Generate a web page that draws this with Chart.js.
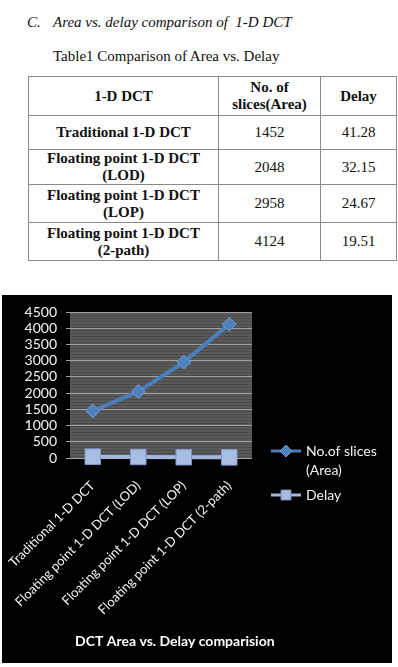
<!DOCTYPE html>
<html>
<head>
<meta charset="utf-8">
<script src="https://cdn.jsdelivr.net/npm/chart.js@4.4.1/dist/chart.umd.min.js"></script>
<style>
  html, body { margin: 0; padding: 0; background: #fff; }
  body { width: 398px; height: 667px; position: relative; overflow: hidden; font-family: "Liberation Serif", "Times New Roman", serif; color: #111; }
  .heading { position: absolute; left: 27px; top: 14px; font-size: 15px; font-style: italic; white-space: pre; }
  .heading .num { display: inline-block; width: 26px; }
  .caption { position: absolute; left: 53px; top: 48px; font-size: 15px; }
  table { position: absolute; left: 28px; top: 76px; border-collapse: collapse; font-size: 15px; line-height: 17px; }
  td, th { border: 1px solid #8a8a8a; text-align: center; padding: 0 3px; }
  th { font-weight: bold; height: 38px; }
  td.name { font-weight: bold; }
  .chart-box { position: absolute; left: 2px; top: 295px; width: 390px; height: 368px; background: #000; }
</style>
</head>
<body>
<div class="heading"><span class="num">C.</span>Area vs. delay comparison of  1-D DCT</div>
<div class="caption">Table1 Comparison of Area vs. Delay</div>
<table id="tbl">
  <colgroup><col style="width:190px"><col style="width:102px"><col style="width:76px"></colgroup>
  <thead><tr><th>1-D DCT</th><th>No. of<br>slices(Area)</th><th>Delay</th></tr></thead>
  <tbody id="tbody"></tbody>
</table>
<div class="chart-box"><canvas id="chart" width="390" height="368"></canvas></div>

<script>
// --- Data ---
const categories = ['Traditional 1-D DCT', 'Floating point 1-D DCT (LOD)', 'Floating point 1-D DCT (LOP)', 'Floating point 1-D DCT (2-path)'];
const areaSlices = [1452, 2048, 2958, 4124];
const delayValues = [41.28, 32.15, 24.67, 19.51];
const yMin = 0;
const yMax = 4500;
const yStep = 500;
const rowHeights = [34, 35, 38, 38];
const chartTitle = 'DCT Area vs. Delay comparision';

// --- Table ---
const tbody = document.getElementById('tbody');
categories.forEach((name, i) => {
    const tr = document.createElement('tr');
    tr.style.height = rowHeights[i] + 'px';
    const label = name.replace(' (', '<br>(');
    tr.innerHTML = `<td class="name">${label}</td><td>${areaSlices[i]}</td><td>${delayValues[i].toFixed(2)}</td>`;
    tbody.appendChild(tr);
});

const chartFont = 'Lato, "Open Sans", sans-serif';

// --- Plot background: grey with fine horizontal stripes ---
const stripes = document.createElement('canvas');
stripes.width = 4;
stripes.height = 3;
const sctx = stripes.getContext('2d');
sctx.fillStyle = '#5a5a5a';
sctx.fillRect(0, 0, 4, 3);
sctx.fillStyle = '#4a4a4a';
sctx.fillRect(0, 2, 4, 1);

const plotBackground = {
    id: 'plotBackground',
    beforeDraw(chart) {
        const { ctx, chartArea: a } = chart;
        ctx.save();
        ctx.fillStyle = ctx.createPattern(stripes, 'repeat');
        ctx.fillRect(a.left, a.top, a.right - a.left, a.bottom - a.top);
        ctx.restore();
    }
};

// --- Legend on the right (labels wrap over two lines) + title under the plot ---
const sideLegend = {
    id: 'sideLegend',
    afterDraw(chart) {
        const ctx = chart.ctx;
        const items = [
            { ds: 0, lines: ['No.of slices', '(Area)'], y: 156, r: 6 },
            { ds: 1, lines: ['Delay'], y: 200, r: 7 }
        ];
        ctx.save();
        items.forEach(item => {
            const ds = chart.data.datasets[item.ds];
            ctx.strokeStyle = ds.borderColor;
            ctx.lineWidth = 3;
            ctx.beginPath();
            ctx.moveTo(269, item.y);
            ctx.lineTo(299, item.y);
            ctx.stroke();
            ctx.fillStyle = ds.pointBackgroundColor;
            ctx.strokeStyle = ds.pointBorderColor;
            ctx.lineWidth = 1;
            Chart.helpers.drawPoint(ctx, {
                pointStyle: ds.pointStyle, radius: item.r, rotation: 0, borderWidth: 1
            }, 284, item.y);
            ctx.fillStyle = '#f2f2f2';
            ctx.font = '14px ' + chartFont;
            ctx.textBaseline = 'middle';
            ctx.textAlign = 'left';
            item.lines.forEach((t, k) => ctx.fillText(t, 304, item.y + k * 19));
        });
        // chart title, left-aligned below the category labels
        ctx.fillStyle = '#ffffff';
        ctx.font = 'bold 14px ' + chartFont;
        ctx.textBaseline = 'middle';
        ctx.textAlign = 'left';
        ctx.fillText(chartTitle, 73, 346);
        ctx.restore();
    }
};

new Chart(document.getElementById('chart'), {
    type: 'line',
    data: {
        labels: categories,
        datasets: [{
            label: 'No.of slices (Area)',
            data: areaSlices,
            borderColor: '#4a7ebb',
            borderWidth: 4,
            pointStyle: 'rectRot',
            pointRadius: 7,
            pointBackgroundColor: '#4f81bd',
            pointBorderColor: '#6f9ad3',
            pointBorderWidth: 1,
            tension: 0.05
        }, {
            label: 'Delay',
            data: delayValues,
            borderColor: '#a3b7dd',
            borderWidth: 4,
            pointStyle: 'rect',
            pointRadius: 11,
            pointBackgroundColor: '#a8bde2',
            pointBorderColor: '#7f97c4',
            pointBorderWidth: 1,
            clip: 14
        }]
    },
    options: {
        responsive: false,
        animation: false,
        layout: { padding: { top: 17, right: 140, left: 0, bottom: 31 } },
        plugins: {
            legend: { display: false },
            tooltip: { enabled: false },
            title: { display: false }
        },
        scales: {
            x: {
                offset: true,
                grid: { display: false },
                border: { display: false },
                ticks: {
                    color: '#f2f2f2',
                    minRotation: 45,
                    maxRotation: 45,
                    autoSkip: false,
                    padding: 12,
                    font: { family: chartFont, size: 13 }
                },
                afterFit(scale) {
                    scale.height = 174;
                    scale.paddingLeft = 0;
                    scale.paddingRight = 0;
                }
            },
            y: {
                min: yMin,
                max: yMax,
                ticks: {
                    stepSize: yStep,
                    autoSkip: false,
                    color: '#f2f2f2',
                    padding: 9,
                    font: { family: chartFont, size: 14 },
                    callback: v => String(v)
                },
                grid: { color: '#a0a0a0', lineWidth: 1, tickLength: 4 },
                border: { display: false },
                afterFit(scale) {
                    scale.width = 68;
                    scale.paddingTop = 0;
                    scale.paddingBottom = 0;
                }
            }
        }
    },
    plugins: [plotBackground, sideLegend]
});
</script>
</body>
</html>
